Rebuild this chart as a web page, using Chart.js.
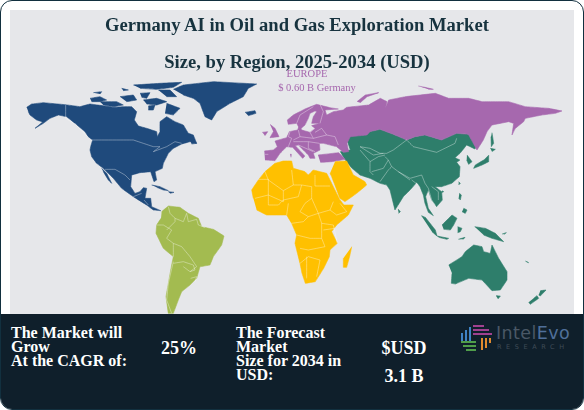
<!DOCTYPE html>
<html>
<head>
<meta charset="utf-8">
<script src="https://cdn.jsdelivr.net/npm/chart.js@4"></script>
<style>
  html, body { margin: 0; padding: 0; background: #fff; }
  #card { position: relative; width: 582px; height: 408px; border: 1px solid #12303f; border-radius: 12px; overflow: hidden; background: #fff; font-family: "Liberation Serif", serif; }
  #plot { position: absolute; left: 9px; top: 9px; width: 564px; height: 304px; background: #e6e7ea; }
  #map { position: absolute; left: -1px; top: -1px; z-index: 1; }
  #panel { position: absolute; left: 0; top: 313px; width: 582px; height: 95px; background: #0f1f2b; color: #fff; font-weight: bold; z-index: 2; }
  .abs { position: absolute; z-index: 3; white-space: nowrap; }
  #title { left: 0; top: 5px; width: 592px; text-align: center; font: bold 18.6px/37px "Liberation Serif", serif; color: #17333f; }
  .region { font: 10.5px "Liberation Serif", serif; color: #a668ae; transform: translateX(-50%); }
  .stat { font: bold 16px/14px "Liberation Serif", serif; color: #fff; }
  .big { font: bold 18px/20px "Liberation Serif", serif; color: #fff; transform: translateX(-50%); }
</style>
</head>
<body>
<div id="card">
  <div id="plot"></div>
  <canvas id="map" width="584" height="410"></canvas>
  <div class="abs" id="title">Germany AI in Oil and Gas Exploration Market<br>Size, by Region, 2025-2034 (USD)</div>
  <div class="abs region" style="left:306px;top:67px">EUROPE</div>
  <div class="abs region" style="left:316px;top:81px">$ 0.60 B Germany</div>
  <div id="panel"></div>
  <div class="abs stat" style="left:10px;top:325px">The Market will<br>Grow<br>At the CAGR of:</div>
  <div class="abs big" style="left:178px;top:337px">25%</div>
  <div class="abs stat" style="left:235px;top:325px">The Forecast<br>Market<br>Size for 2034 in<br>USD:</div>
  <div class="abs big" style="left:403px;top:337px">$USD</div>
  <div class="abs big" style="left:403px;top:365px">3.1 B</div>
  <svg class="abs" style="left:459px;top:323px" width="34" height="32" viewBox="0 0 34 32">
    <g fill="none" stroke-width="2">
      <path d="M2 17V9M6 17V6M10 17V3" stroke="#3f82c4"/>
      <path d="M13 2H24M13 6H29M13 10H32" stroke="#a0418f"/>
      <path d="M22 14V26M26 14V24M30 14V19" stroke="#e08a2e"/>
      <path d="M1 18H16M3 22H16M6 26H16" stroke="#4f9d4a"/>
    </g>
  </svg>
  <div class="abs" style="left:495px;top:321px;font:17.5px/22px 'DejaVu Sans',sans-serif;letter-spacing:.4px;color:#4a5866">Intel<span style="color:#4f6f9a">Evo</span></div>
  <div class="abs" style="left:496px;top:342px;font:6.5px/8px 'DejaVu Sans',sans-serif;letter-spacing:4.6px;color:#3f4c57">RESEARCH</div>
</div>
<script>
// map outlines, in map units (x 0-1752, y 0-1230 going down)
const xRange = [0, 1752]
const yRange = [0, 1230]

const northAmerica = [[80,322],[95,312],[130,308],[195,314],[240,320],[270,312],[300,316],[340,322],[370,320],[395,320],[410,335],[403,360],[415,378],[440,385],[470,395],[472,410],[480,395],[480,365],[500,350],[525,365],[550,375],[565,400],[580,405],[590,430],[570,425],[545,432],[520,445],[505,460],[490,490],[487,505],[465,515],[470,540],[462,545],[452,515],[420,518],[395,525],[392,560],[405,580],[420,575],[430,563],[440,565],[435,595],[452,595],[455,620],[482,632],[460,630],[440,615],[400,590],[365,565],[340,535],[310,505],[290,490],[275,470],[270,450],[272,440],[278,420],[265,410],[255,395],[225,370],[200,350],[175,345],[150,355],[130,370],[105,385],[128,366],[110,360],[90,345],[85,335]]
const baja = [[305,505],[320,520],[335,550],[325,540],[310,515]]
const cuba = [[455,555],[480,560],[505,572],[490,570],[470,562]]
const hispaniola = [[505,575],[522,577],[510,580]]
const newfoundland = [[570,420],[590,430],[575,432]]
const arctic1 = [[270,295],[300,290],[320,300],[300,305],[275,305]]
const arctic2 = [[300,305],[350,305],[370,315],[340,320],[310,315]]
const arctic3 = [[280,278],[305,275],[300,282]]
const arctic4 = [[365,265],[385,270],[370,272]]
const arctic5 = [[360,290],[400,285],[410,300],[380,305]]
const arctic6 = [[420,280],[450,278],[440,295],[425,292]]
const arctic7 = [[430,300],[470,295],[500,305],[470,315],[440,312]]
const arctic8 = [[445,318],[465,315],[460,330],[445,330]]
const ellesmere = [[400,255],[480,250],[545,247],[520,262],[470,268],[420,265]]
const devon = [[475,270],[510,270],[530,290],[500,290]]
const baffin = [[500,310],[540,325],[520,345],[495,340]]
const greenland = [[520,268],[550,255],[640,245],[770,252],[745,265],[730,290],[690,310],[650,335],[635,360],[615,350],[600,310],[580,295],[550,285]]
const iceland = [[735,337],[765,332],[768,340],[745,347]]

const southAmerica = [[485,635],[505,618],[540,622],[565,640],[595,655],[605,680],[640,688],[672,708],[665,735],[640,770],[630,795],[600,800],[590,835],[570,855],[545,875],[535,900],[520,940],[505,940],[498,890],[505,850],[515,795],[520,770],[490,745],[468,700],[470,675],[483,655]]

const africa = [[760,595],[755,570],[775,540],[795,515],[825,490],[850,483],[875,483],[880,505],[915,515],[925,525],[940,510],[980,520],[990,540],[1020,600],[1032,615],[1060,615],[1045,645],[1010,675],[995,695],[1012,730],[990,750],[988,770],[971,805],[946,845],[916,850],[906,820],[900,790],[885,730],[890,705],[875,670],[860,645],[800,645],[770,630]]
const madagascar = [[1055,740],[1050,765],[1040,802],[1030,802],[1030,775]]
const arabia = [[1005,485],[1040,483],[1060,525],[1095,545],[1100,555],[1070,580],[1035,605],[1020,595],[995,530],[990,520]]

const eurasiaNorth = [[793,453],[820,450],[832,440],[825,423],[860,413],[868,395],[893,390],[898,375],[905,390],[930,397],[945,385],[935,377],[960,370],[935,370],[940,350],[950,335],[945,333],[930,340],[925,355],[915,375],[900,388],[890,370],[865,373],[862,360],[880,345],[915,327],[950,313],[990,323],[1015,327],[975,330],[980,345],[1000,335],[1030,330],[1040,322],[1106,315],[1141,295],[1161,305],[1156,325],[1166,300],[1216,290],[1306,280],[1346,295],[1406,295],[1446,305],[1526,305],[1576,320],[1646,325],[1686,333],[1666,340],[1626,345],[1576,355],[1571,365],[1546,385],[1536,405],[1541,370],[1526,365],[1476,375],[1461,395],[1450,420],[1431,450],[1405,403],[1370,400],[1325,420],[1275,405],[1245,410],[1220,420],[1180,403],[1140,388],[1110,395],[1101,405],[1051,410],[1041,430],[1046,455],[1030,457],[1010,440],[990,435],[970,430],[958,430],[960,450],[940,460],[945,475],[930,475],[925,465],[895,435],[886,437],[915,468],[908,475],[878,442],[860,440],[840,460],[825,482],[795,480]]
const britain = [[810,373],[825,385],[837,410],[810,413],[820,395]]
const ireland = [[787,397],[803,395],[795,407]]
const corsica = [[870,463],[874,463],[873,472]]
const turkey = [[954,465],[1016,458],[1036,478],[996,485],[961,487]]
const novayaZemlya = [[1071,305],[1096,285],[1136,278],[1101,290],[1081,308]]
const siberianIsle = [[1255,258],[1275,262],[1300,268],[1285,268]]

const asia = [[1046,410],[1110,395],[1140,388],[1180,403],[1220,420],[1245,410],[1275,405],[1325,420],[1370,400],[1405,403],[1435,430],[1425,447],[1400,435],[1380,460],[1365,473],[1380,480],[1370,487],[1380,500],[1378,530],[1355,550],[1325,560],[1305,560],[1325,575],[1327,600],[1310,620],[1295,600],[1285,570],[1277,590],[1285,625],[1300,647],[1285,637],[1275,610],[1270,585],[1260,560],[1250,547],[1235,565],[1210,590],[1185,630],[1170,570],[1160,555],[1140,550],[1110,535],[1080,525],[1056,505],[1036,480],[1021,455],[1051,450],[1041,420]]
const korea = [[1401,465],[1416,485],[1406,493],[1400,480]]
const honshu = [[1466,465],[1466,485],[1446,495],[1421,505],[1426,495],[1451,480]]
const hokkaido = [[1471,445],[1486,448],[1476,455]]
const sakhalin = [[1476,398],[1481,430],[1474,440],[1473,410]]
const sriLanka = [[1194,627],[1201,635],[1196,640]]
const taiwan = [[1376,545],[1381,550],[1376,555]]
const hainan = [[1326,572],[1331,575],[1324,578]]
const luzon = [[1378,580],[1384,585],[1381,600],[1376,595]]
const mindanao = [[1391,625],[1401,630],[1396,640],[1386,635]]
const sumatra = [[1264,647],[1276,652],[1306,690],[1311,708],[1296,695]]
const java = [[1311,708],[1346,715],[1341,718],[1316,712]]
const borneo = [[1326,675],[1356,645],[1371,655],[1361,675],[1351,690],[1331,688]]
const sulawesi = [[1373,680],[1386,685],[1381,695],[1373,698]]
const newGuinea = [[1424,680],[1456,685],[1486,700],[1511,725],[1476,715],[1451,705]]
const australia = [[1346,795],[1386,770],[1396,755],[1421,735],[1446,740],[1451,755],[1471,760],[1476,735],[1496,775],[1521,815],[1521,840],[1501,870],[1476,872],[1446,840],[1406,835],[1366,852],[1354,850],[1356,820]]
const tasmania = [[1488,887],[1501,888],[1494,897]]
const nzNorth = [[1621,872],[1638,870],[1621,888],[1616,885]]
const nzSouth = [[1601,895],[1611,887],[1616,895],[1591,913],[1586,907]]
const solomon = [[1506,702],[1519,698],[1512,703]]
const caledonia = [[1576,783],[1586,788],[1580,786]]
const sunda = [[1375,718],[1395,712],[1390,718]]

// country borders, pale lines on top of the fills
const americaBorders = [
  [[197,315],[197,355],[225,372],[262,410]],
  [[275,420],[400,420],[430,430],[460,440],[480,440],[460,455],[500,440],[525,425],[545,430]],
  [[315,508],[345,508],[375,525],[390,540]],
  [[400,590],[425,580]], [[432,600],[445,615]]
]
const southBorders = [
  [[505,620],[510,640],[525,655],[525,665],[500,690]],
  [[470,675],[490,675],[515,690],[500,715],[520,730],[520,770]],
  [[525,655],[550,665],[560,640],[565,665],[590,658],[595,675],[615,682]],
  [[520,730],[545,740],[570,770],[590,800],[570,815]],
  [[520,785],[505,850],[500,900],[515,940]],
  [[520,790],[550,785],[580,795],[585,810],[570,815],[550,800]],
  [[572,835],[590,830],[585,845]]
]
const africaBorders = [
  [[795,515],[805,540],[850,572],[880,555],[875,510]],
  [[775,538],[805,538],[805,585],[765,595]],
  [[805,585],[850,605],[850,572]],
  [[850,600],[895,590],[905,555],[880,555]],
  [[945,525],[945,558],[990,558]],
  [[905,555],[935,560],[935,595],[915,610],[900,635]],
  [[935,595],[955,640],[990,630],[1000,605]],
  [[990,630],[1010,645],[1040,635],[1020,610]],
  [[900,635],[925,650],[955,640]],
  [[875,670],[910,665],[925,650]],
  [[890,705],[930,715],[965,715],[965,670],[955,640]],
  [[965,670],[1000,675],[1012,730]],
  [[970,690],[1005,685]],
  [[805,585],[805,615],[835,615],[850,600]],
  [[860,645],[865,610]],
  [[965,715],[975,740],[925,750],[900,745]],
  [[900,790],[925,770],[960,780],[950,830]],
  [[920,770],[920,835]]
]
const asiaBorders = [
  [[1220,420],[1240,440],[1310,457],[1365,430],[1370,415]],
  [[1080,440],[1110,445],[1140,460],[1160,460],[1180,450],[1220,420]],
  [[1155,470],[1165,480],[1175,500],[1195,515],[1230,535],[1265,525],[1275,550]],
  [[1080,450],[1110,485],[1110,515],[1120,525]],
  [[1110,485],[1135,470],[1155,465]],
  [[1115,515],[1150,505],[1165,480]],
  [[1140,545],[1165,510],[1175,500]],
  [[1195,515],[1230,540]],
  [[1235,540],[1255,555]],
  [[1275,550],[1285,565],[1295,600],[1305,615]],
  [[1295,560],[1315,575],[1315,600]],
  [[1080,440],[1120,465],[1150,460]]
]
const europeBorders = [
  [[870,395],[865,410],[875,415],[865,440]],
  [[895,390],[900,410],[880,420]],
  [[930,397],[940,415],[900,410]],
  [[945,385],[930,397]],
  [[945,397],[965,385],[980,405],[1005,410],[1015,435]],
  [[940,415],[980,405]],
  [[880,425],[925,425],[958,430]],
  [[895,435],[940,455]],
  [[925,425],[925,445],[945,455]],
  [[960,370],[970,335],[960,313]],
  [[890,370],[900,345],[940,320]],
  [[795,463],[805,463]]
]

const fillShapes = [
  { color: "#1f4a7c", shapes: [northAmerica, baja, cuba, hispaniola, newfoundland, arctic1, arctic2, arctic3, arctic4, arctic5, arctic6, arctic7, arctic8, ellesmere, devon, baffin, greenland, iceland] },
  { color: "#a3bb50", shapes: [southAmerica] },
  { color: "#ffc000", shapes: [africa, madagascar, arabia] },
  { color: "#a668ae", shapes: [eurasiaNorth, britain, ireland, corsica, turkey, novayaZemlya, siberianIsle] },
  { color: "#2e7e6b", shapes: [asia, korea, honshu, hokkaido, sakhalin, sriLanka, taiwan, hainan, luzon, mindanao, sumatra, java, borneo, sulawesi, newGuinea, australia, tasmania, nzNorth, nzSouth, solomon, caledonia, sunda] }
]
const borderLines = [...americaBorders, ...southBorders, ...africaBorders, ...asiaBorders, ...europeBorders]

// Chart.js paints the first dataset last, so the borders go in first to sit on top
// tiny tension keeps Chart.js off its x-sorted fast path, which collapses outlines
const datasets = []
borderLines.forEach((line) => {
  datasets.push({
    data: line,
    showLine: true,
    fill: false,
    tension: 0.0001,
    pointRadius: 0,
    borderColor: "rgba(255,255,255,0.6)",
    borderWidth: 0.6
  })
})
fillShapes.forEach((group) => {
  group.shapes.forEach((shape) => {
    datasets.push({
      data: shape,
      showLine: true,
      fill: "shape",
      tension: 0.0001,
      pointRadius: 0,
      backgroundColor: group.color,
      borderColor: group.color,
      borderWidth: 0.6
    })
  })
})

new Chart(document.getElementById("map").getContext("2d"), {
  type: "scatter",
  data: { datasets },
  options: {
    responsive: false,
    animation: false,
    layout: { padding: 0 },
    plugins: { legend: { display: false }, tooltip: { enabled: false } },
    scales: {
      x: { type: "linear", display: false, min: xRange[0], max: xRange[1] },
      y: { type: "linear", display: false, reverse: true, min: yRange[0], max: yRange[1] }
    }
  }
})
</script>
</body>
</html>
